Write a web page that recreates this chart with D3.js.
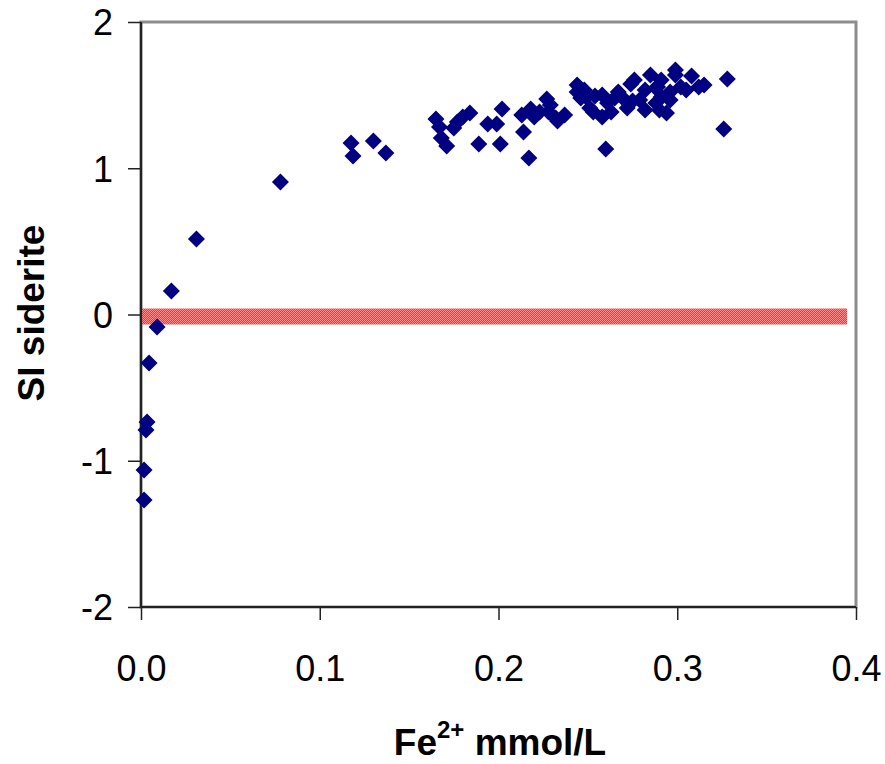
<!DOCTYPE html>
<html lang="en">
<head>
<meta charset="UTF-8">
<title>SI siderite vs Fe2+</title>
<script src="https://cdn.jsdelivr.net/npm/d3@7/dist/d3.min.js"></script>
<style>
  body { margin: 0; background: #fff; }
  svg text { font-family: "Liberation Sans", Arial, sans-serif; }
</style>
</head>
<body>
<svg id="chart" width="885" height="764"></svg>
<script>
// Fe2+ (mmol/L) and SI siderite
var feValues = [
  0.0017, 0.0017, 0.0028, 0.0034, 0.0045, 0.009, 0.017, 0.031, 0.078,
  0.1175, 0.1186, 0.130, 0.137,
  0.165, 0.167, 0.168, 0.171, 0.175, 0.177, 0.180, 0.184, 0.189, 0.194, 0.199,
  0.201, 0.202, 0.213, 0.214, 0.217, 0.218, 0.220, 0.223, 0.227, 0.228, 0.229,
  0.232, 0.233, 0.237, 0.244, 0.244, 0.246, 0.248, 0.249, 0.251, 0.253, 0.254,
  0.258, 0.258, 0.260, 0.261, 0.263, 0.265, 0.267, 0.269, 0.272, 0.274, 0.275,
  0.276, 0.279, 0.282, 0.282, 0.285, 0.288, 0.288, 0.289, 0.290, 0.291, 0.291,
  0.294, 0.296, 0.296, 0.299, 0.299, 0.302, 0.305, 0.308, 0.312, 0.315, 0.326, 0.328
];
var siValues = [
  -1.268, -1.063, -0.790, -0.735, -0.332, -0.085, 0.161, 0.516, 0.906,
  1.173, 1.084, 1.186, 1.104,
  1.337, 1.282, 1.207, 1.152, 1.275, 1.316, 1.350, 1.378, 1.166, 1.303, 1.303,
  1.166, 1.405, 1.364, 1.248, 1.070, 1.405, 1.350, 1.385, 1.474, 1.385, 1.432,
  1.344, 1.323, 1.364, 1.569, 1.521, 1.480, 1.535, 1.487, 1.412, 1.385, 1.494,
  1.501, 1.350, 1.132, 1.446, 1.385, 1.480, 1.521, 1.487, 1.412, 1.576, 1.460,
  1.603, 1.467, 1.535, 1.398, 1.638, 1.549, 1.446, 1.556, 1.398, 1.487, 1.603,
  1.378, 1.521, 1.467, 1.638, 1.672, 1.556, 1.535, 1.631, 1.556, 1.569, 1.268, 1.610
];
// saturation line SI = 0
var zeroLineX = [0, 0.395];
var zeroLineY = [0, 0];

var xTicks = [0, 0.1, 0.2, 0.3, 0.4];
var yTicks = [-2, -1, 0, 1, 2];

var svg = d3.select("#chart"),
    margin = { top: 22, right: 29, bottom: 157, left: 141 },
    width = +svg.attr("width") - margin.left - margin.right,
    height = +svg.attr("height") - margin.top - margin.bottom,
    g = svg.append("g").attr("transform", "translate(" + margin.left + "," + margin.top + ")");

var x = d3.scaleLinear().domain([0, 0.4]).range([0, width]);
var y = d3.scaleLinear().domain([-2, 2]).range([height, 0]);

// dithered red fill for the zero line
var defs = svg.append("defs");
var pat = defs.append("pattern")
    .attr("id", "dither")
    .attr("width", 2).attr("height", 2)
    .attr("patternUnits", "userSpaceOnUse");
pat.append("rect").attr("width", 2).attr("height", 2).attr("fill", "#ff8a8a");
pat.append("rect").attr("width", 1).attr("height", 1).attr("fill", "#ff3030");
pat.append("rect").attr("x", 1).attr("y", 1).attr("width", 1).attr("height", 1).attr("fill", "#ff3030");

// plot area border (grey)
g.append("rect")
    .attr("x", 0).attr("y", 0)
    .attr("width", width).attr("height", height)
    .attr("fill", "none")
    .attr("stroke", "#8c8c8c")
    .attr("stroke-width", 3);

// zero line as a thick band
var zeroData = zeroLineX.map(function (d, i) { return [d, zeroLineY[i]]; });
g.append("path")
    .datum(zeroData)
    .attr("fill", "none")
    .attr("stroke", "url(#dither)")
    .attr("stroke-width", 16)
    .attr("transform", "translate(0,2)")
    .attr("d", d3.line().x(function (d) { return x(d[0]); }).y(function (d) { return y(d[1]); }));

// axes (plain hyphen for negatives, like the original)
var xAxis = d3.axisBottom(x).tickValues(xTicks).tickSize(13).tickPadding(35)
    .tickFormat(d3.format(".1f"));
var yAxis = d3.axisLeft(y).tickValues(yTicks).tickSize(13).tickPadding(15)
    .tickFormat(function (d) { return String(d); });

var gx = g.append("g")
    .attr("transform", "translate(0," + height + ")")
    .call(xAxis);
var gy = g.append("g").call(yAxis);

[gx, gy].forEach(function (ax) {
  ax.select(".domain").attr("stroke", "#222").attr("stroke-width", 2.2);
  ax.selectAll(".tick line").attr("stroke", "#222").attr("stroke-width", 1.5);
  ax.selectAll(".tick text")
      .attr("fill", "#000")
      .style("font-size", "36px")
      .style("font-family", "'Liberation Sans', Arial, sans-serif");
});
gx.select(".domain").attr("d", "M0,0H" + width);
gy.select(".domain").attr("d", "M0,0V" + height);
gy.selectAll(".tick text").attr("dy", "0.36em");

// points (diamonds)
var points = feValues.map(function (d, i) { return { fe: d, si: siValues[i] }; });
var diamond = "M0,-8.5L8.5,0L0,8.5L-8.5,0Z";
g.selectAll(".pt")
    .data(points)
    .enter().append("path")
    .attr("class", "pt")
    .attr("d", diamond)
    .attr("fill", "#000080")
    .attr("transform", function (d) { return "translate(" + x(d.fe) + "," + y(d.si) + ")"; });

// axis titles
var xt = svg.append("text")
    .attr("x", 500)
    .attr("y", 755)
    .attr("text-anchor", "middle")
    .style("font-size", "37px")
    .style("font-weight", "bold");
xt.append("tspan").text("Fe");
xt.append("tspan").attr("dy", -17).style("font-size", "24px").text("2+");
xt.append("tspan").attr("dy", 17).text(" mmol/L");

svg.append("text")
    .attr("transform", "translate(44," + 313 + ") rotate(-90)")
    .attr("text-anchor", "middle")
    .style("font-size", "37px")
    .style("font-weight", "bold")
    .text("SI siderite");
</script>
</body>
</html>
